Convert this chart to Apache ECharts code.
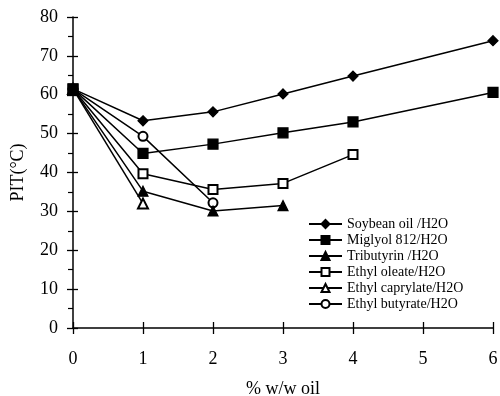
<!DOCTYPE html>
<html>
<head>
<meta charset="utf-8">
<script src="https://cdn.jsdelivr.net/npm/echarts@6/dist/echarts.min.js"></script>
<style>
  html, body { margin: 0; padding: 0; background: #fff; }
  #chart { width: 500px; height: 396px; }
</style>
</head>
<body>
<div id="chart"></div>
<script>
// data: % w/w oil -> PIT (°C)
const soybean = [[0, 61.5], [1, 53.3], [2, 55.6], [3, 60.2], [4, 64.8], [6, 73.9]];
const miglyol = [[0, 61.5], [1, 44.9], [2, 47.3], [3, 50.2], [4, 53.0], [6, 60.6]];
const tributyrin = [[0, 61.5], [1, 35.2], [2, 30.1], [3, 31.5]];
const ethylOleate = [[0, 61.5], [1, 39.7], [2, 35.6], [3, 37.2], [4, 44.6]];
const ethylCaprylate = [[0, 61.5], [1, 32.0]];
const ethylButyrate = [[0, 61.5], [1, 49.3], [2, 32.2]];

const names = ['Soybean oil /H2O', 'Miglyol 812/H2O', 'Tributyrin /H2O',
  'Ethyl oleate/H2O', 'Ethyl caprylate/H2O', 'Ethyl butyrate/H2O'];

const font = 'Liberation Serif, Times New Roman, serif';
const chart = echarts.init(document.getElementById('chart'));

function mk(name, data, symbol, size, z) {
  return {
    name: name,
    type: 'line',
    data: data,
    symbol: symbol,
    symbolSize: size,
    z: z,
    lineStyle: { color: '#000', width: 1.5 },
    itemStyle: { color: '#000', borderColor: '#000', borderWidth: 1.2 },
    emphasis: { disabled: true },
    animation: false
  };
}

const axisCommonX = {
  type: 'value', min: 0, max: 6, interval: 1,
  splitLine: { show: false }
};

chart.setOption({
  animation: false,
  grid: { left: 73, right: 7, top: 17, bottom: 68, outerBoundsMode: 'none', containLabel: false },
  legend: {
    orient: 'vertical',
    left: 303,
    top: 212,
    itemWidth: 33,
    itemHeight: 10,
    itemGap: 2,
    data: names,
    textStyle: { fontFamily: font, fontSize: 14, color: '#000' }
  },
  xAxis: [
    Object.assign({}, axisCommonX, {
      name: '% w/w oil',
      nameLocation: 'middle',
      nameGap: 52,
      nameTextStyle: { fontFamily: font, fontSize: 18, color: '#000' },
      axisLine: { lineStyle: { color: '#000', width: 1.5 } },
      axisTick: { length: 6, lineStyle: { color: '#000', width: 1.3 } },
      axisLabel: { fontFamily: font, fontSize: 18, color: '#000', margin: 22 }
    }),
    Object.assign({}, axisCommonX, {
      position: 'bottom',
      axisLine: { show: false },
      axisTick: { inside: true, length: 6, lineStyle: { color: '#000', width: 1.3 } },
      axisLabel: { show: false }
    })
  ],
  yAxis: [
    {
      type: 'value', min: 0, max: 80, interval: 10,
      name: 'PIT(°C)',
      nameLocation: 'middle',
      nameGap: 46,
      nameTextStyle: { fontFamily: font, fontSize: 18, color: '#000' },
      splitLine: { show: false },
      axisLine: { show: true, lineStyle: { color: '#000', width: 1.5 } },
      axisTick: { show: true, length: 6, lineStyle: { color: '#000', width: 1.3 } },
      minorTick: { show: true, splitNumber: 2, length: 5, lineStyle: { color: '#000', width: 1.2 } },
      axisLabel: { fontFamily: font, fontSize: 18, color: '#000', margin: 15 }
    },
    {
      type: 'value', min: 0, max: 80, interval: 10,
      position: 'left',
      splitLine: { show: false },
      axisLine: { show: false },
      axisTick: { show: true, inside: true, length: 5, lineStyle: { color: '#000', width: 1.3 } },
      axisLabel: { show: false }
    }
  ],
  series: [
    mk(names[0], soybean, 'diamond', 10, 6),
    mk(names[1], miglyol, 'rect', 10, 7),
    mk(names[2], tributyrin, 'triangle', 10, 5),
    mk(names[3], ethylOleate, 'emptyRect', 9, 4),
    mk(names[4], ethylCaprylate, 'emptyTriangle', 10, 3),
    mk(names[5], ethylButyrate, 'emptyCircle', 9, 2)
  ]
});
</script>
</body>
</html>
